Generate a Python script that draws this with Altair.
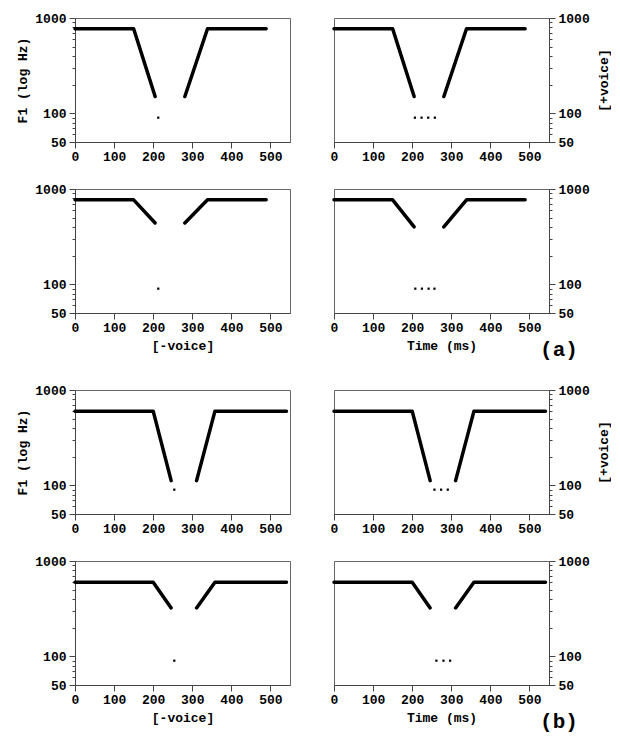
import altair as alt
import pandas as pd

FONT = "Liberation Mono"

# ---------------- data ----------------
# time breakpoints of the F1 transitions (ms)
a_fall_time = [0, 150, 205]
a_rise_time = [281, 339, 489]
b_fall_time = [0, 200, 246]
b_rise_time = [311, 358, 541]

# F1 (Hz) at those breakpoints, per row
r1_fall_f1 = [770, 770, 150]          # (a) [+voice]
r1_rise_f1 = [150, 770, 770]
r2l_fall_f1 = [770, 770, 440]         # (a) [-voice] left
r2l_rise_f1 = [440, 770, 770]
r2r_fall_f1 = [770, 770, 400]         # (a) [-voice] right
r2r_rise_f1 = [400, 770, 770]
r3_fall_f1 = [600, 600, 112]          # (b) [+voice]
r3_rise_f1 = [112, 600, 600]
r4_fall_f1 = [600, 600, 322]          # (b) [-voice]
r4_rise_f1 = [322, 600, 600]

# burst / voicing dots during closure
burst_f1 = 90
r1l_dots = [213]
r1r_dots = [207, 224, 241, 258]
r2l_dots = [213]
r2r_dots = [208, 225, 242, 257]
r3l_dots = [254]
r3r_dots = [257, 274, 291]
r4l_dots = [254]
r4r_dots = [262, 280, 297]

# axis ticks
x_ticks = list(range(0, 551, 25))
y_ticks = [50, 60, 70, 80, 90, 100, 200, 300, 400, 500, 600, 700, 800, 900, 1000]
y_labeled = [50, 100, 1000]

W, H = 215, 124


def xaxis(title):
    return alt.Axis(
        values=x_ticks,
        labelExpr="datum.value % 100 === 0 ? datum.label : ''",
        tickSize={"condition": {"test": "datum.value % 100 === 0", "value": 6}, "value": 3},
        labelOverlap=False,
        labelPadding=2,
        labelFlush=False,
        title=title,
        titlePadding=5,
    )


def yaxis(side, title):
    test = " || ".join(f"datum.value === {v}" for v in y_labeled)
    kw = dict(
        orient=side,
        values=y_ticks,
        labelExpr=f"({test}) ? '' + datum.value : ''",
        tickSize={"condition": {"test": test, "value": 6}, "value": 3},
        labelOverlap=False,
        labelFlush=False,
        labelPadding=3,
        title=title,
    )
    if side == "right":
        kw.update(titleAngle=270, titleBaseline="top", titlePadding=8)
    else:
        kw.update(titlePadding=5)
    return alt.Axis(**kw)


def panel(fall_t, fall_f, rise_t, rise_f, dots_t, side, ytitle=None, xtitle=None, tag=None):
    line_df = pd.DataFrame({
        "t": fall_t + rise_t,
        "f": fall_f + rise_f,
        "seg": ["fall"] * len(fall_t) + ["rise"] * len(rise_t),
    })
    dot_df = pd.DataFrame({"t": dots_t, "f": [burst_f1] * len(dots_t)})
    x = alt.X("t:Q", scale=alt.Scale(domain=[0, 550], nice=False, zero=False), axis=xaxis(xtitle))
    y = alt.Y("f:Q", scale=alt.Scale(type="log", domain=[50, 1000], nice=False), axis=yaxis(side, ytitle))
    lines = alt.Chart(line_df).mark_line(
        color="black", strokeWidth=3.5, strokeCap="round", strokeJoin="round"
    ).encode(x=x, y=y, detail="seg:N")
    dots = alt.Chart(dot_df).mark_square(color="black", size=5, opacity=1).encode(x="t:Q", y="f:Q")
    layers = [lines, dots]
    if tag:
        txt = alt.Chart(pd.DataFrame({"tag": [tag]})).mark_text(
            font=FONT, fontSize=21, fontWeight="bold", align="center",
            baseline="alphabetic", color="black"
        ).encode(x=alt.value(225), y=alt.value(167), text="tag:N")
        layers.append(txt)
    return alt.layer(*layers).properties(width=W, height=H)


grid_a = alt.concat(
    panel(a_fall_time, r1_fall_f1, a_rise_time, r1_rise_f1, r1l_dots, "left", ytitle="F1 (log Hz)"),
    panel(a_fall_time, r1_fall_f1, a_rise_time, r1_rise_f1, r1r_dots, "right", ytitle="[+voice]"),
    panel(a_fall_time, r2l_fall_f1, a_rise_time, r2l_rise_f1, r2l_dots, "left", xtitle="[-voice]"),
    panel(a_fall_time, r2r_fall_f1, a_rise_time, r2r_rise_f1, r2r_dots, "right", xtitle="Time (ms)", tag="(a)"),
    columns=2, spacing={"column": 44, "row": 47}, bounds="flush",
)

grid_b = alt.concat(
    panel(b_fall_time, r3_fall_f1, b_rise_time, r3_rise_f1, r3l_dots, "left", ytitle="F1 (log Hz)"),
    panel(b_fall_time, r3_fall_f1, b_rise_time, r3_rise_f1, r3r_dots, "right", ytitle="[+voice]"),
    panel(b_fall_time, r4_fall_f1, b_rise_time, r4_rise_f1, r4l_dots, "left", xtitle="[-voice]"),
    panel(b_fall_time, r4_fall_f1, b_rise_time, r4_rise_f1, r4r_dots, "right", xtitle="Time (ms)", tag="(b)"),
    columns=2, spacing={"column": 44, "row": 47}, bounds="flush",
)

chart = alt.vconcat(grid_a, grid_b, spacing=22).properties(
    padding={"left": 8, "top": 3, "right": 0, "bottom": 0}
).configure_axis(
    labelFont=FONT, labelFontWeight="bold", labelFontSize=13, labelColor="black",
    titleFont=FONT, titleFontWeight="bold", titleFontSize=13, titleColor="black",
    domainColor="#444", tickColor="#444", grid=False,
).configure_view(stroke="#666", strokeWidth=1)

chart.save("out.html", embed_options={"renderer": "svg", "actions": False})
